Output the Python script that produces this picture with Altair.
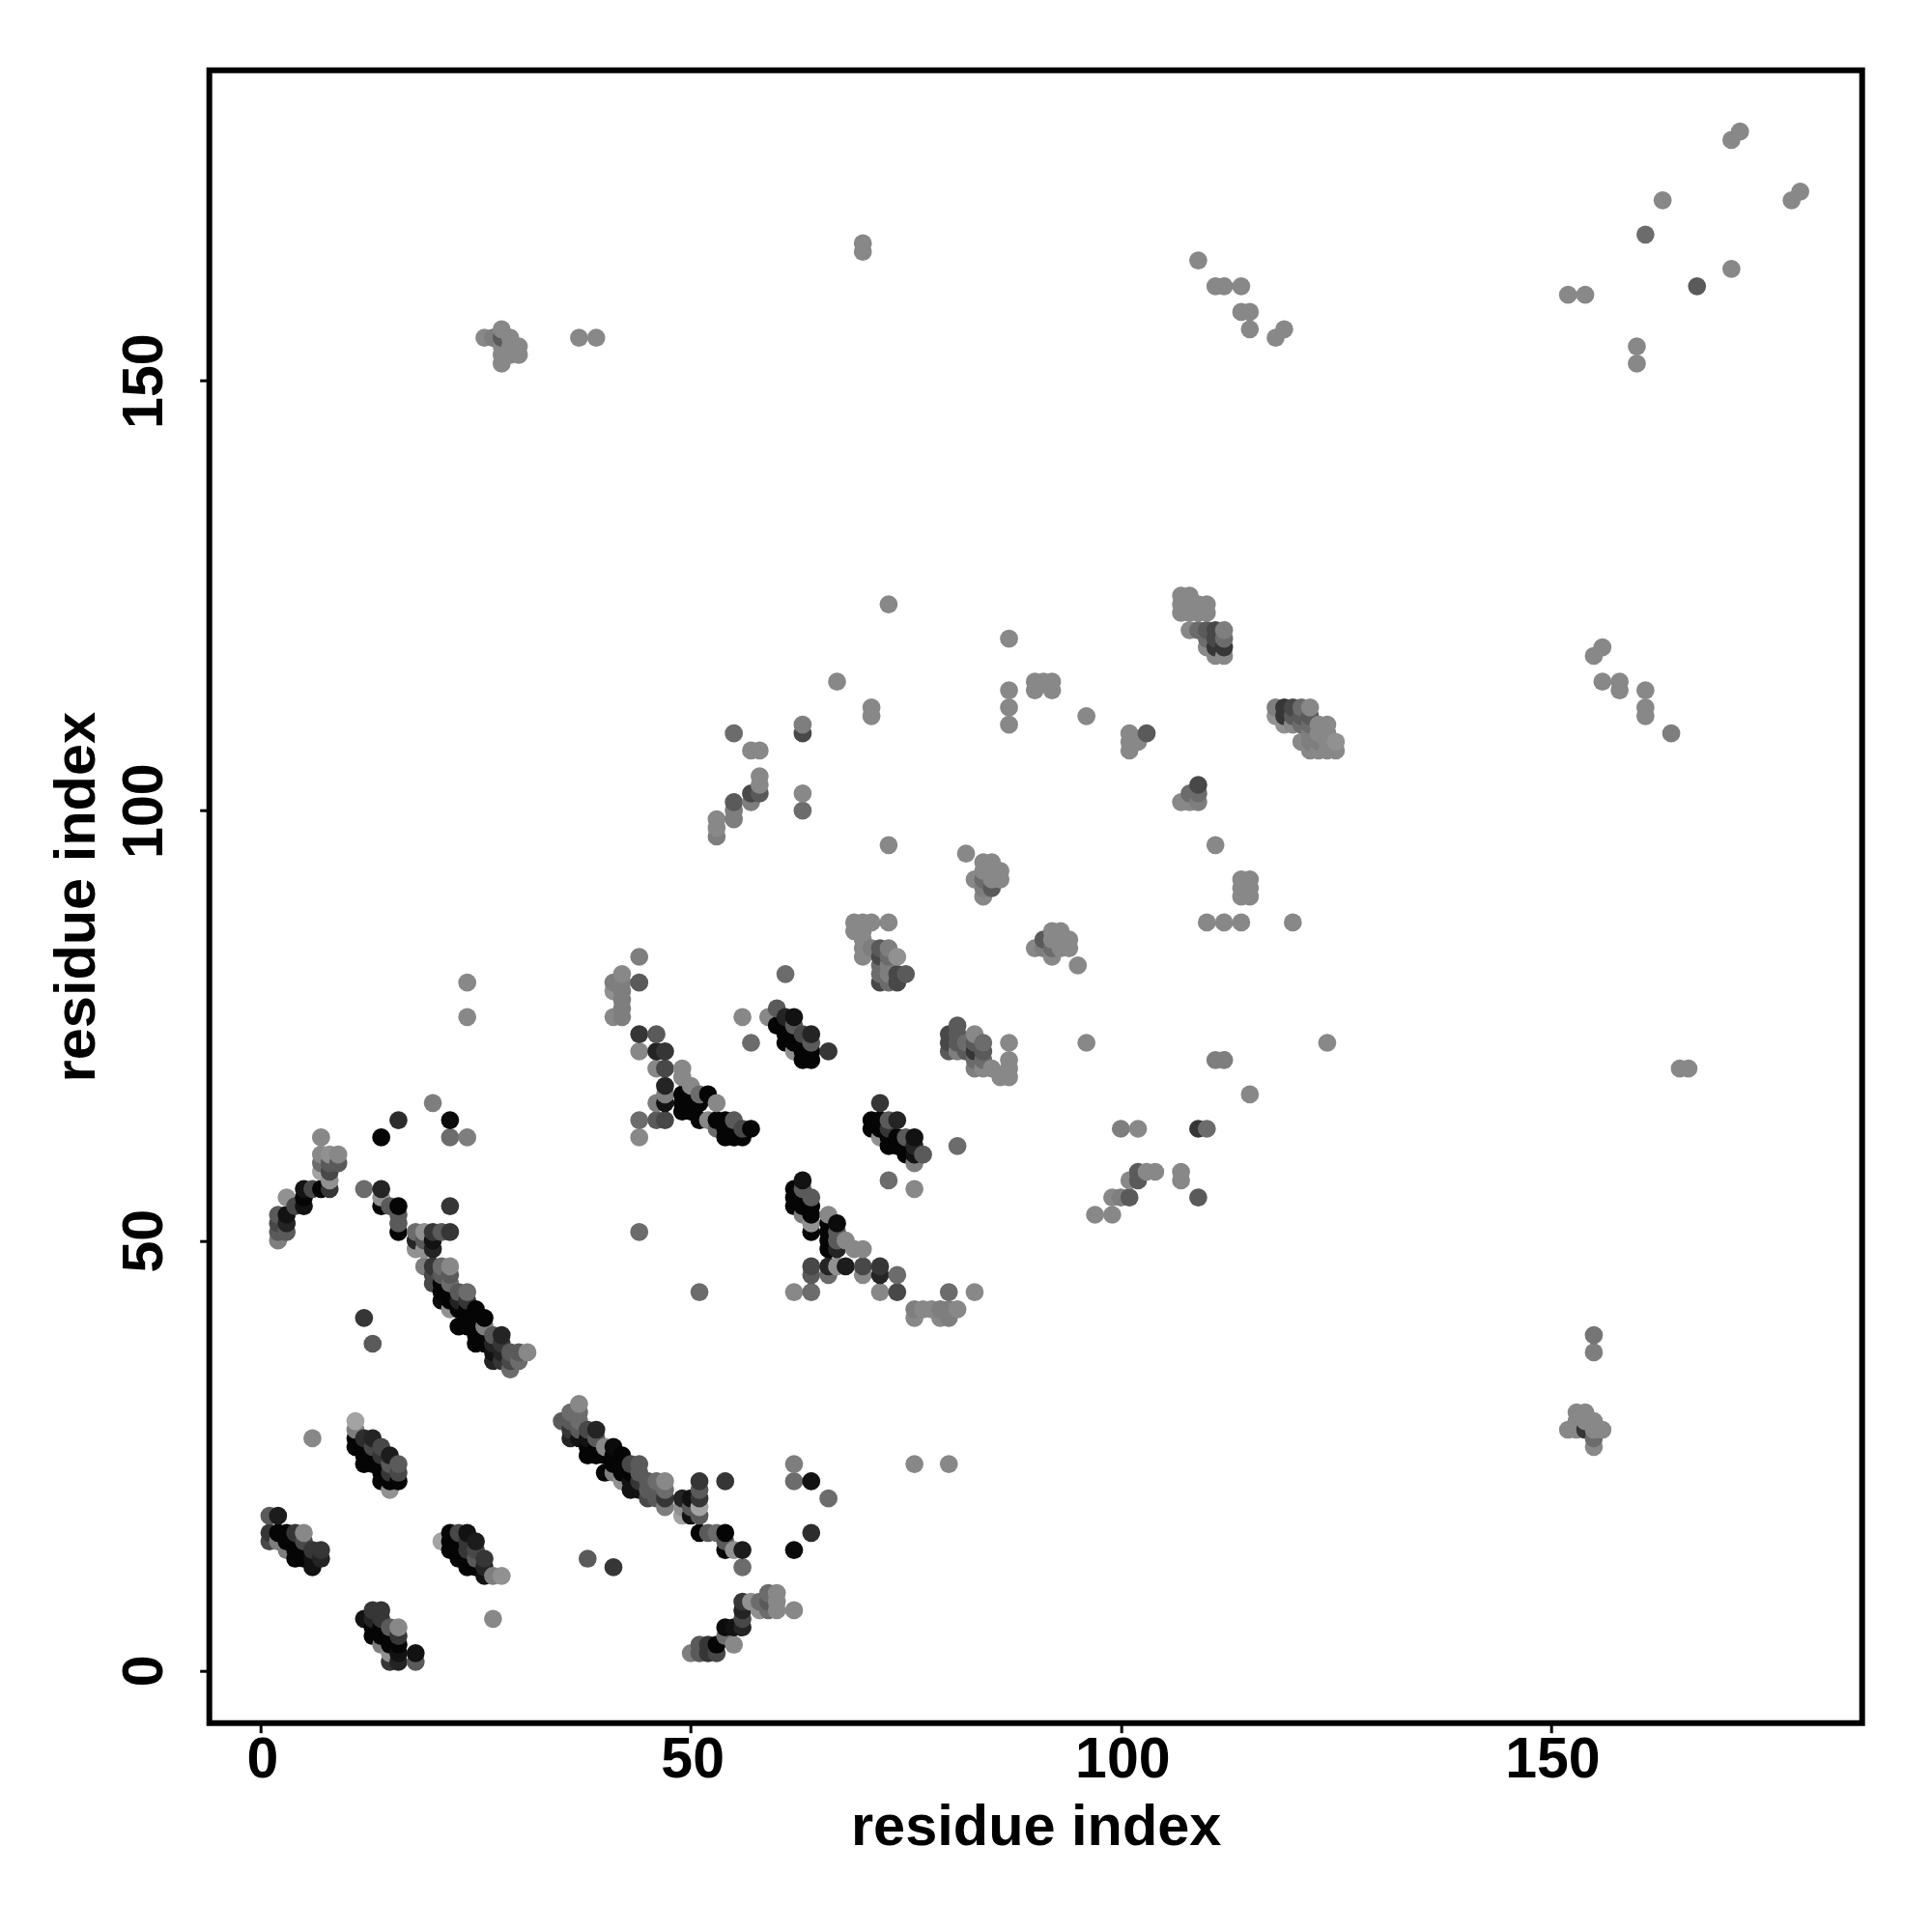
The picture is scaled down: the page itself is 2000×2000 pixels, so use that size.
import altair as alt
import pandas as pd

# (residue i, residue j, grey level of the contact dot)
block_low_left = [
 (1,18,85),(2,18,26),(1,16,51),(1,15,68),(2,16,5),(3,16,5),(4,16,51),(5,16,128),(2,15,119),(3,15,5),(4,15,5),(5,15,68),
 (3,14,119),(4,14,5),(5,14,5),(6,14,51),(7,14,51),(4,13,5),(5,13,5),(6,13,17),(7,13,34),(6,12,17),
 (6,27,128),(11,29,153),(11,28,119),(11,27,5),(11,26,5),(12,27,42),(13,27,34),(12,26,5),(13,26,68),(14,26,68),
 (12,25,5),(13,25,5),(14,25,51),(15,25,26),(12,24,5),(13,24,5),(14,24,5),(15,24,85),(16,24,85),(14,23,5),(15,23,51),(16,23,68),
 (14,22,5),(15,22,5),(16,22,5),(15,21,136),
 (12,6,17),(13,7,51),(14,7,51),(13,6,34),(14,6,51),(13,5,5),(14,5,5),(15,5,85),(16,5,128),(13,4,5),(14,4,5),(15,4,5),(16,4,51),
 (14,3,119),(15,3,5),(16,3,5),(15,2,136),(16,2,17),(18,2,17),(15,1,51),(16,1,34),(18,1,85),
 (21,15,153),(22,16,5),(23,16,68),(24,16,17),(22,15,5),(23,15,5),(24,15,51),(25,15,26),(22,14,5),(23,14,5),(24,14,51),(25,14,68),
 (23,13,5),(24,13,5),(25,13,85),(26,13,51),(24,12,5),(25,12,5),(26,12,34),(26,11,17),(27,11,119),(28,11,136),(27,6,128),
 (12,41,51),(13,38,85),
]
block_arch = [
 (7,62,128),(14,62,5),(16,64,42),(20,66,119),(22,64,10),(22,62,102),(24,62,119),
 (7,60,128),(8,60,136),(9,60,128),(7,59,102),(8,59,85),(9,59,85),(7,58,153),(8,58,68),(8,57,136),(8,56,51),(7,56,5),(6,56,68),(5,56,17),
 (5,55,5),(3,55,136),(4,54,68),(5,54,17),(3,53,17),(2,53,85),(3,52,34),(2,52,68),(3,51,85),(2,51,85),(2,50,119),
 (12,56,102),(14,56,34),(14,55,136),(14,54,5),(15,54,85),(16,54,5),(22,54,51),(16,53,85),(16,52,85),(16,51,5),
 (18,51,102),(19,51,136),(20,51,51),(21,51,85),(22,51,51),(18,50,34),(19,50,85),(20,50,17),(20,49,34),(18,49,136),(19,49,136),
 (19,47,119),(20,47,51),(21,47,102),(22,47,128),(20,46,68),(21,46,85),(22,46,85),(20,45,68),(21,45,5),(22,45,102),
 (21,44,5),(22,44,5),(23,44,85),(24,44,102),(21,43,10),(22,43,5),(23,43,34),(24,43,51),
 (22,42,136),(23,42,5),(24,42,5),(25,42,5),(26,41,5),(25,41,5),(24,41,5),(23,40,5),(24,40,5),(25,40,5),(26,40,119),(25,39,5),(26,39,5),(27,39,85),(28,39,34),
 (25,38,5),(26,38,5),(27,38,34),(28,38,51),(29,37,85),(30,37,85),(31,37,128),(27,37,17),(28,37,34),(27,36,34),(28,36,51),(29,36,68),(30,36,102),(29,35,102),
]
block_long_diag = [
 (37,31,128),(35,29,85),(36,30,102),(37,30,102),(36,29,85),(37,29,102),(36,28,51),(37,28,85),(38,28,68),(39,28,34),(36,27,34),(37,27,17),(38,27,17),(39,27,85),
 (40,26,128),(41,26,10),(38,26,5),(39,26,5),(40,25,5),(38,25,5),(39,25,5),(41,25,5),(42,25,5),(43,24,68),(44,24,85),(41,24,5),(42,24,5),(40,23,5),(41,23,119),(42,23,5),(43,23,5),(44,23,85),
 (42,22,136),(43,22,17),(44,22,51),(45,22,85),(46,22,102),(47,22,128),(43,21,17),(44,21,17),(45,21,85),(46,21,85),(47,21,102),(45,20,68),(46,20,85),(47,20,51),(49,20,34),(50,20,17),
 (47,19,119),(49,19,136),(50,19,85),(49,18,153),(50,18,17),(51,22,51),(51,21,85),(51,20,51),(51,19,153),(51,18,85),
 (54,22,51),(62,24,119),(62,22,102),(64,22,17),(66,20,102),(64,16,42),(62,14,10),(38,13,85),(41,12,51),
 (51,16,5),(52,16,85),(53,16,102),(54,16,5),(54,15,85),(54,14,5),(55,14,136),(56,14,26),(56,12,102),
 (62,7,128),(60,9,128),(59,9,102),(60,8,128),(59,8,85),(58,8,102),(57,8,136),(56,8,51),(56,7,34),(58,7,136),(59,7,102),(60,7,128),
 (56,6,68),(56,5,34),(55,5,17),(54,5,10),(54,4,102),(55,3,128),(53,3,5),(52,3,51),(51,3,85),(53,2,68),(52,2,51),(51,2,85),(50,2,119),
]
block_mid = [
 (44,83,119),(42,81,128),(41,80,119),(42,80,119),(44,80,85),(41,79,136),(42,79,119),(42,78,119),(42,77,119),(41,76,128),(42,76,119),
 (44,74,51),(46,74,85),(44,72,128),(46,72,34),(47,72,51),(46,70,128),(47,70,68),(49,70,128),(49,69,128),(47,68,34),(50,68,128),
 (47,67,119),(46,66,119),(47,66,17),(49,67,5),(51,67,102),(52,67,5),(49,66,5),(50,66,5),(51,66,5),(53,66,128),(49,65,5),(50,65,5),
 (44,64,102),(46,64,85),(47,64,68),(51,64,5),(52,64,128),(53,64,5),(54,64,5),(55,64,85),(53,63,102),(54,63,5),(55,63,5),(56,63,68),(57,63,5),
 (54,62,5),(55,62,5),(56,62,5),(44,62,128),(44,51,102),
 (56,76,128),(57,73,102),(59,76,128),(60,77,85),(61,76,34),(62,76,17),(60,75,5),(61,75,5),(62,75,85),(63,74,68),(64,74,34),(61,74,5),(62,74,5),
 (61,73,5),(62,73,5),(63,73,5),(64,73,85),(66,72,51),(62,72,136),(63,72,5),(64,72,5),(63,71,5),(64,71,5),(61,81,102),
 (72,66,51),(71,64,5),(72,64,5),(73,64,85),(74,64,34),(71,63,5),(72,63,5),(73,63,51),(73,62,5),(72,62,136),(74,62,5),(75,62,85),(76,62,17),
 (73,61,5),(74,61,5),(75,61,5),(76,61,34),(75,60,5),(76,60,17),(77,60,85),(76,59,119),(73,57,102),(76,56,128),(81,61,102),
 (63,57,17),(62,56,5),(63,56,85),(64,55,85),(62,55,5),(63,55,5),(63,54,5),(64,54,5),(62,54,5),(63,53,119),(64,53,5),(66,53,128),(67,52,10),(64,52,136),(64,51,5),(66,52,5),(66,51,5),(67,51,85),
 (68,50,128),(66,50,5),(67,50,85),(66,49,5),(67,49,34),(69,49,128),(70,49,128),(64,47,68),(64,46,85),(66,47,34),(67,47,136),(68,47,26),(66,46,102),(70,47,68),(70,46,128),(72,47,51),(72,46,34),(74,46,102),
 (62,44,128),(64,44,102),(72,44,128),(74,44,68),(80,44,102),(83,44,128),
 (76,42,119),(77,42,128),(78,42,128),(79,42,119),(80,42,119),(81,42,128),(76,41,128),(79,41,128),(80,41,119),
 (51,44,102),(155,39,110),(155,37,119),(76,24,128),(80,24,128),
 (153,30,128),(154,30,128),(153,29,128),(154,29,128),(155,29,128),(152,28,128),(153,28,128),(154,28,51),(155,28,128),(156,28,128),(155,27,102),(155,26,128),
]
block_upper = [
 (73,96,128),(82,95,128),(84,94,128),(85,94,128),(84,93,128),(85,93,128),(86,93,128),(83,92,128),(84,92,102),(85,92,128),(86,92,128),(85,91,85),(84,91,119),(84,90,128),
 (69,87,128),(70,87,128),(71,87,128),(73,87,128),(69,86,128),(70,86,128),(70,85,128),(70,84,128),(70,83,128),(71,84,119),(72,84,85),(73,84,119),(72,83,68),(73,83,102),(74,83,136),
 (72,82,102),(73,82,119),(72,81,102),(73,81,119),(74,81,68),(75,81,85),(72,80,68),(73,80,102),(74,80,68),
 (81,75,85),(80,74,68),(81,74,85),(83,74,128),(80,73,68),(81,73,85),(82,73,102),(83,73,85),(84,73,102),(87,73,128),(80,72,85),(81,72,119),(82,72,85),(83,72,51),(84,72,85),
 (83,71,102),(84,71,102),(87,71,128),(83,70,119),(84,70,128),(85,70,128),(87,70,128),(86,69,128),(87,69,128),(96,73,128),
 (92,86,128),(93,86,128),(94,85,128),(91,85,85),(92,85,128),(93,85,128),(90,84,128),(91,84,119),(92,84,102),(93,84,128),(94,84,128),(92,83,128),(95,82,128),
 (107,125,128),(108,125,128),(107,124,128),(108,124,128),(109,124,128),(110,124,128),(107,123,128),(108,123,128),(109,123,128),(110,123,128),
 (108,121,128),(109,121,102),(110,121,85),(111,121,68),(112,121,119),(110,120,102),(111,120,68),(112,120,102),(110,119,128),(111,119,51),(112,119,51),(111,118,128),(112,118,128),
 (118,112,119),(119,112,51),(120,112,68),(121,112,102),(122,112,128),(118,111,136),(119,111,51),(120,111,85),(121,111,85),(122,111,85),
 (119,110,136),(120,110,128),(121,110,102),(122,110,102),(122,109,119),(123,110,128),(124,110,128),(123,109,128),(124,109,128),(121,108,128),(122,108,119),(123,108,119),(124,108,128),(125,108,136),(122,107,128),(123,107,128),(124,107,128),(125,107,128),
]
block_sparse = [
 (172,179,128),(171,178,128),(179,172,128),(178,171,128),(163,171,128),(161,167,102),(171,163,128),(167,161,85),(152,160,128),(154,160,128),(160,154,128),(160,152,128),
 (70,166,128),(70,165,128),(109,164,128),(111,161,128),(112,161,128),(114,161,128),(114,158,128),(115,158,128),(115,156,128),(119,156,128),(118,155,128),
 (26,155,128),(27,155,119),(28,156,128),(28,155,85),(29,155,128),(28,154,128),(29,154,128),(30,154,128),(28,153,128),(29,153,128),(30,153,128),(28,152,128),(37,155,128),(39,155,128),
 (73,124,128),(87,120,128),(156,119,128),(155,118,128),(156,115,128),(158,115,128),(158,114,128),(161,114,128),(161,112,128),(161,111,128),(164,109,119),
 (67,115,128),(71,112,128),(71,111,128),(87,114,128),(87,112,128),(87,110,128),(90,115,128),(91,115,128),(92,115,128),(90,114,128),(92,114,128),(96,111,128),
 (63,110,119),(63,109,68),(55,109,102),(57,107,128),(58,107,128),(58,104,128),(58,103,128),(57,102,68),(58,102,85),(63,102,128),(63,100,102),(57,101,119),(55,101,85),(55,100,119),(55,99,119),(53,99,128),(53,98,128),(53,97,119),
 (101,109,128),(103,109,85),(102,108,128),(101,108,128),(101,107,128),
 (107,101,128),(108,101,128),(109,102,102),(109,103,68),(109,101,119),(108,102,102),
 (111,96,128),(114,92,128),(115,92,128),(114,91,128),(115,91,128),(114,90,128),(115,90,128),(110,87,128),(112,87,128),(114,87,128),(120,87,128),
 (124,73,128),(111,71,119),(112,71,119),(115,67,128),(165,70,128),(166,70,128),(100,63,119),(102,63,128),(109,63,51),(110,63,102),
 (97,53,128),(99,53,128),(99,55,128),(100,55,119),(101,57,128),(101,55,85),(102,58,85),(103,58,128),(104,58,128),(102,57,85),(107,58,128),(107,57,128),(109,55,85),
 (24,80,128),(24,76,128),
]

rows = block_low_left + block_arch + block_long_diag + block_mid + block_upper + block_sparse
df = pd.DataFrame(rows, columns=["i", "j", "shade"]).sort_values(["i", "j"], kind="stable")
df["rank"] = range(len(df))

FONT = "Liberation Sans"
xaxis = alt.Axis(values=[0, 50, 100, 150], title="residue index", grid=False, domain=False,
                 tickColor="black", tickWidth=3, tickSize=10,
                 labelFont=FONT, labelFontSize=59, labelFontWeight="bold", labelColor="black", labelPadding=-1,
                 labelOffset=1.5,
                 titleFont=FONT, titleFontSize=59.5, titleFontWeight="bold", titleColor="black",
                 titleBaseline="middle", titleY=108)
yaxis = alt.Axis(values=[0, 50, 100, 150], title="residue index", grid=False, domain=False,
                 tickColor="black", tickWidth=3, tickSize=10,
                 labelFont=FONT, labelFontSize=59, labelFontWeight="bold", labelColor="black", labelPadding=27,
                 labelAngle=270, labelAlign="center", labelBaseline="bottom",
                 titleFont=FONT, titleFontSize=59.5, titleFontWeight="bold", titleColor="black",
                 titleBaseline="middle", titleX=-137)

chart = (
    alt.Chart(df)
    .mark_circle(size=350, opacity=1)
    .encode(
        x=alt.X("i:Q", axis=xaxis, scale=alt.Scale(domain=[-5.99, 186.2], nice=False, zero=False)),
        y=alt.Y("j:Q", axis=yaxis, scale=alt.Scale(domain=[-6.12, 186.12], nice=False, zero=False)),
        color=alt.Color("shade:Q", legend=None,
                        scale=alt.Scale(domain=[0, 240], range=["#000000", "#ffffff"], interpolate="rgb")),
        order=alt.Order("rank:Q"),
    )
    .properties(width=1711, height=1711,
                autosize=alt.AutoSizeParams(type="none"),
                padding={"left": 208.7, "top": 64.7, "right": 60, "bottom": 200},
                background="white")
    .configure_view(stroke="black", strokeWidth=6)
)
chart.save("out.html", embed_options={"renderer": "svg", "actions": False})
